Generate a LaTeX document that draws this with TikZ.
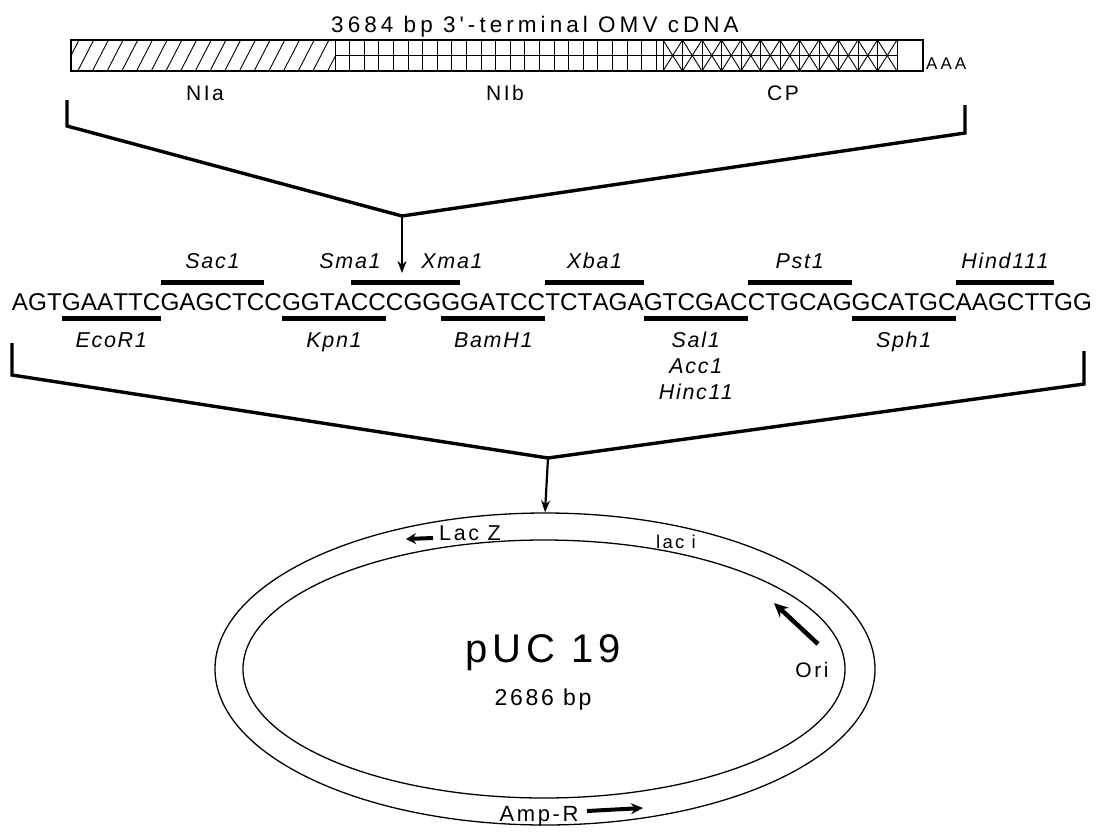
\documentclass[tikz,border=0pt]{standalone}
\usepackage{fontspec}
\setmainfont{Liberation Sans}
\newfontfamily\seqfont{Liberation Sans}[Kerning=Off]
\newfontfamily\spfont{Liberation Sans}[LetterSpace=12]
\newfontfamily\wsfont{Liberation Sans}[LetterSpace=18]
\newfontfamily\enzfont{Liberation Sans}[LetterSpace=8]
\usetikzlibrary{arrows.meta,shapes.geometric,calc}
\tikzset{
  seq/.style={inner sep=0pt, outer sep=0pt, anchor=base west, font=\seqfont\fontsize{24.3}{28}\selectfont},
  enz/.style={inner sep=0pt, anchor=base, font=\enzfont\itshape\fontsize{21.5}{25}\selectfont},
  lbl/.style={inner sep=0pt, anchor=base, font=\spfont\fontsize{21}{25}\selectfont},
  sitebar/.style={line width=5pt},
  brk/.style={line width=3.4pt, line join=miter},
  arr/.style={line width=2.2pt, -{Stealth[length=12pt,width=9pt]}},
  fat/.style={line width=4.5pt, -{Stealth[length=14pt,width=13pt]}},
  thinl/.style={line width=0.9pt},
  ring/.style={draw, ellipse, line width=1.3pt, inner sep=0pt}
}
\begin{document}
\begin{tikzpicture}[x=1pt,y=-1pt]
\useasboundingbox (0,0) rectangle (1096,831);
% ---------- cDNA bar ----------
\node[lbl, font=\wsfont\fontsize{22.5}{26}\selectfont] (title) at (535,32) {3684 bp 3'-terminal OMV cDNA};
\begin{scope}
  \clip (71,40) rectangle (335,71);
  \foreach \i in {0,...,19} { \draw[thinl] ({71+\i*14.7-8},71) -- ({71+\i*14.7+8},40); }
\end{scope}
\foreach \i in {0,...,22} { \draw[thinl] ({335+\i*14.6},40) -- ++(0,31); }
\draw[thinl] (335,55.5) -- (663,55.5);
\foreach \i in {0,...,11} {
  \draw[thinl] ({663+\i*19.5},40) -- ++(0,31);
  \draw[thinl] ({663+\i*19.5},40) -- ++(19.5,31);
  \draw[thinl] ({663+\i*19.5},71) -- ++(19.5,-31);
}
\draw[thinl] (663,55.5) -- (897,55.5);
\draw[thinl] (897,40) -- (897,71);
\draw[line width=1.2pt] (71,40) rectangle (923,71);
\node[lbl, anchor=base west, font=\wsfont\fontsize{17}{20}\selectfont] (aaa) at (926,69) {AAA};
\node[lbl] (nia) at (205,100) {NIa};
\node[lbl] (nib) at (505,100) {NIb};
\node[lbl] (cp) at (783,100) {CP};
% ---------- upper bracket ----------
\coordinate (b1a) at (67,100);
\coordinate (b1b) at (67,126);
\coordinate (j1) at (402,216);
\coordinate (b1c) at (965,133);
\coordinate (b1d) at (965,105);
\draw[brk] (b1a) -- (b1b) -- (j1) -- (b1c) -- (b1d);
\coordinate (t1) at (402,273);
\draw[arr] (j1) -- (t1);
% ---------- sequence ----------
\node[seq] (s1) at (12,310) {AGT};
\node[seq] (s2) at (s1.base east) {GAATTC};
\node[seq] (s3) at (s2.base east) {GAGCTC};
\node[seq] (s4) at (s3.base east) {C};
\node[seq] (s5) at (s4.base east) {GGTA};
\node[seq] (s6) at (s5.base east) {CC};
\node[seq] (s7) at (s6.base east) {CGG};
\node[seq] (s8) at (s7.base east) {G};
\node[seq] (s9) at (s8.base east) {GATCC};
\node[seq] (s10) at (s9.base east) {TCTAGA};
\node[seq] (s11) at (s10.base east) {GTCGAC};
\node[seq] (s12) at (s11.base east) {CTGCAG};
\node[seq] (s13) at (s12.base east) {GCATGC};
\node[seq] (s14) at (s13.base east) {AAGCTT};
\node[seq] (s15) at (s14.base east) {GG};
\coordinate (ol) at (0,282);
\coordinate (ul) at (0,318);
\coordinate (ab) at (0,268);
\coordinate (be) at (0,347);
% over-lines
\draw[sitebar] (s3.west |- ol) -- (s3.east |- ol);
\draw[sitebar] (s6.west |- ol) -- (s8.east |- ol);
\draw[sitebar] (s10.west |- ol) -- (s10.east |- ol);
\draw[sitebar] (s12.west |- ol) -- (s12.east |- ol);
\draw[sitebar] (s14.west |- ol) -- (s14.east |- ol);
% under-lines
\draw[sitebar] (s2.west |- ul) -- (s2.east |- ul);
\draw[sitebar] (s5.west |- ul) -- (s6.east |- ul);
\draw[sitebar] (s8.west |- ul) -- (s9.east |- ul);
\draw[sitebar] (s11.west |- ul) -- (s11.east |- ul);
\draw[sitebar] (s13.west |- ul) -- (s13.east |- ul);
% enzyme names
\node[enz] (sac) at (s3.center |- ab) {Sac1};
\node[enz] (sma) at (350,268) {Sma1};
\node[enz] (xma) at (452,268) {Xma1};
\node[enz] (xba) at (s10.center |- ab) {Xba1};
\node[enz] (pst) at (s12.center |- ab) {Pst1};
\node[enz] (hind) at (s14.center |- ab) {Hind111};
\node[enz] (eco) at (s2.center |- be) {EcoR1};
\node[enz] (kpn) at ($(s5.west |- be)!0.5!(s6.east |- be)$) {Kpn1};
\node[enz] (bam) at ($(s8.west |- be)!0.5!(s9.east |- be)$) {BamH1};
\node[enz] (sal) at (s11.center |- be) {Sal1};
\node[enz] (acc) at ([yshift=-26pt]sal.base) {Acc1};
\node[enz] (hinc) at ([yshift=-26pt]acc.base) {Hinc11};
\node[enz] (sph) at (s13.center |- be) {Sph1};
% ---------- lower bracket ----------
\coordinate (b2a) at (12,343);
\coordinate (b2b) at (12,375);
\coordinate (j2) at (548,458);
\coordinate (b2c) at (1084,384);
\coordinate (b2d) at (1084,351);
\draw[brk] (b2a) -- (b2b) -- (j2) -- (b2c) -- (b2d);
% ---------- plasmid ----------
\node[ring, minimum width=660pt, minimum height=312pt] (outer) at (545,669) {};
\node[ring, minimum width=602pt, minimum height=258pt] (inner) at (544,669) {};
\draw[arr] (j2) -- (outer.north);
\node[lbl, font=\spfont\fontsize{40}{46}\selectfont] (puc) at (543,662) {pUC 19};
\node[lbl, font=\spfont\fontsize{23}{27}\selectfont] (size) at (543,705) {2686 bp};
\node[lbl, font=\spfont\fontsize{21.5}{25}\selectfont] (lacz) at (470,540) {Lac Z};
\coordinate (lz1) at (433,538);
\coordinate (lz2) at (406,539);
\draw[line width=4pt, -{Stealth[length=10pt,width=11pt]}] (lz1) -- (lz2);
\node[lbl, font=\spfont\fontsize{18.5}{22}\selectfont] (laci) at (676,548) {lac i};
\node[lbl] (ori) at (812,677) {Ori};
\coordinate (o1) at (818,644);
\coordinate (o2) at (774,603);
\draw[fat] (o1) -- (o2);
\node[lbl, font=\spfont\fontsize{22}{26}\selectfont] (amp) at (539,821) {Amp-R};
\coordinate (a1) at (587,811);
\coordinate (a2) at (643,808);
\draw[line width=4pt, -{Stealth[length=12pt,width=11pt]}] (a1) -- (a2);
\end{tikzpicture}
\end{document}
